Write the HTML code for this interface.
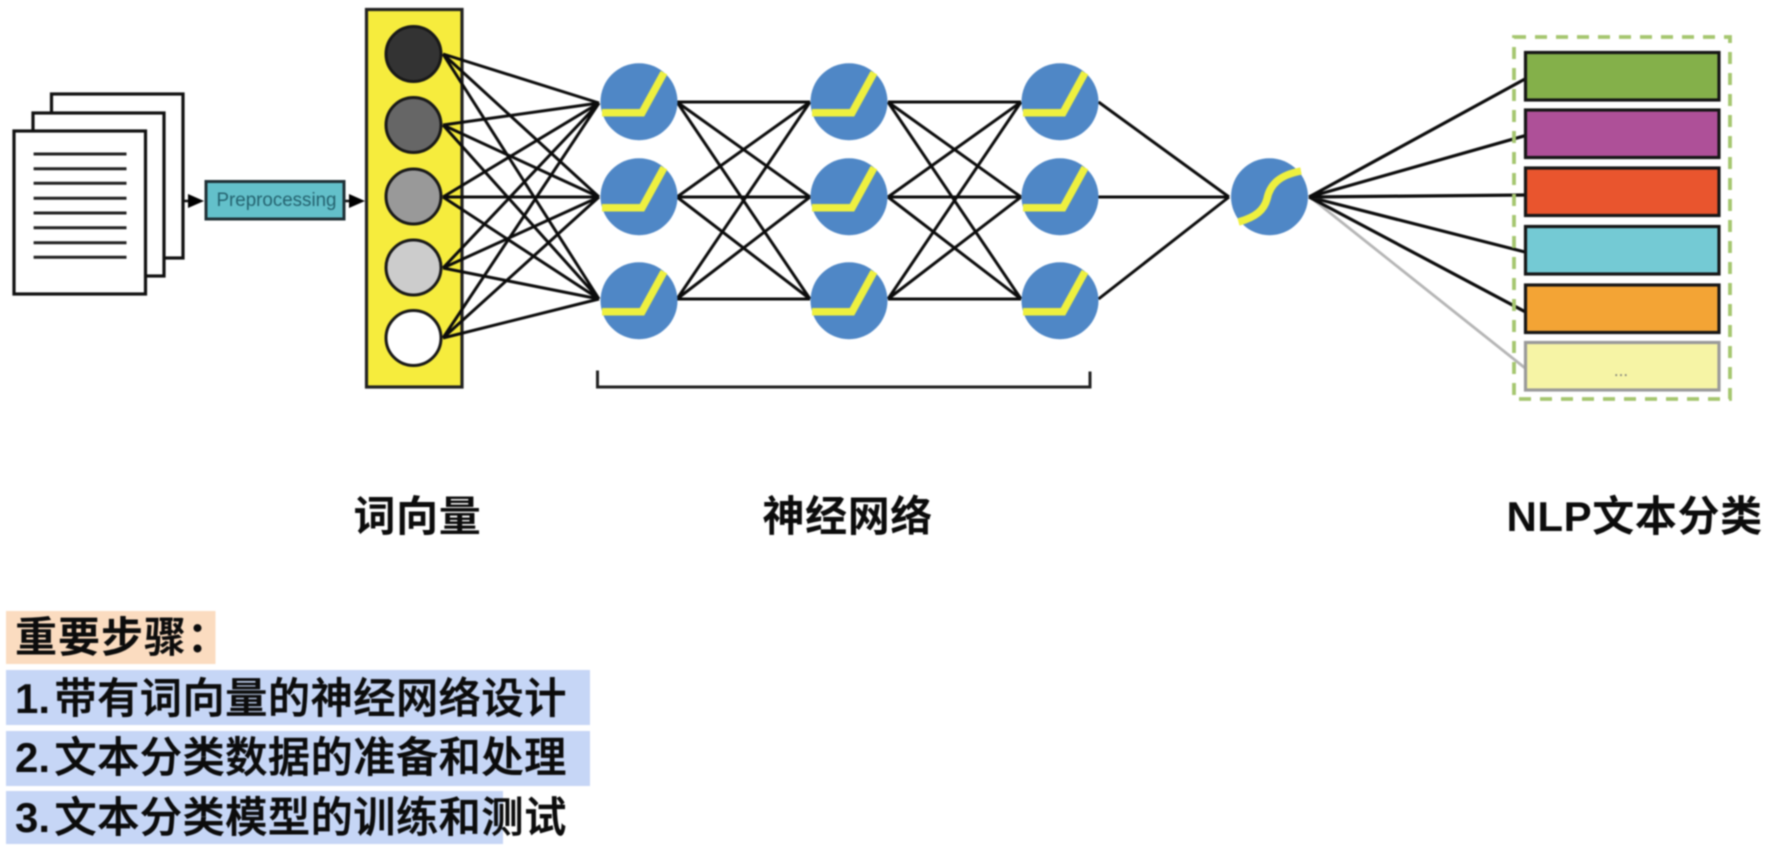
<!DOCTYPE html>
<html lang="zh"><head><meta charset="utf-8"><title>NLP文本分类</title>
<style>
html,body{margin:0;padding:0;background:#fff;width:1774px;height:853px;overflow:hidden}
svg{display:block;filter:blur(.9px)}
text{font-family:"Liberation Sans","Noto Sans CJK SC",sans-serif;fill:#0c0c0c}
.h{font-size:42px;font-weight:700;letter-spacing:.6px}
.s{font-size:42px;font-weight:500;letter-spacing:.7px;stroke:#0c0c0c;stroke-width:.7px}
.b{font-weight:700;stroke:none;letter-spacing:0}
</style></head><body>
<svg width="1774" height="853" viewBox="0 0 1774 853" xmlns="http://www.w3.org/2000/svg">
<defs>
<g id="n"><circle r="38.5" fill="#4f87c6"/><path d="M-37 11H3L25-29" fill="none" stroke="#eef03f" stroke-width="7.5"/></g>
</defs>
<g fill="#fff" stroke="#111" stroke-width="3.2">
<rect x="51.5" y="94" width="131.500" height="164"/>
<rect x="33" y="113" width="131" height="163"/>
<rect x="14" y="131" width="131.500" height="163"/>
</g>
<path d="M33.600 154H126.500M33.600 168.700H126.500M33.600 183.300H126.500M33.600 198.300H126.500M33.600 213H126.500M33.600 227.700H126.500M33.600 242.700H126.500M33.600 257.300H126.500" stroke="#222" stroke-width="3" fill="none"/>
<path d="M183 201H192M344 201H352" stroke="#111" stroke-width="2.500"/>
<path d="M188 194L204 201L188 208ZM349 194L365 201L349 208Z" fill="#000"/>
<rect x="206" y="181.500" width="138" height="37.500" fill="#63c0ca" stroke="#1f3036" stroke-width="3"/>
<text x="216.500" y="206" textLength="120" lengthAdjust="spacingAndGlyphs" style="font-size:19px;fill:#24626f">Preprocessing</text>
<rect x="366.500" y="9.500" width="95.500" height="377.500" fill="#f6ec3d" stroke="#222" stroke-width="3.200"/>
<path fill="none" stroke="#0c0c0c" stroke-width="3" d="M443 54L599 103M443 54L599 197M443 54L599 299M443 125L599 103M443 125L599 197M443 125L599 299M443 197L599 103M443 197L599 197M443 197L599 299M443 268L599 103M443 268L599 197M443 268L599 299M443 338L599 103M443 338L599 197M443 338L599 299"/>
<g stroke="#181818" stroke-width="3">
<ellipse cx="413.500" cy="54" rx="27.500" ry="27.500" fill="#333"/>
<ellipse cx="413.500" cy="125" rx="27.500" ry="27.500" fill="#666"/>
<ellipse cx="413.500" cy="196.500" rx="27.500" ry="27.500" fill="#999"/>
<ellipse cx="413.500" cy="267.500" rx="27.500" ry="27.500" fill="#ccc"/>
<ellipse cx="413.500" cy="338" rx="27.500" ry="27.500" fill="#fff"/>
</g>
<path fill="none" stroke="#0c0c0c" stroke-width="3" d="M677 102L810 102M677 102L810 197M677 102L810 299M677 197L810 102M677 197L810 197M677 197L810 299M677 299L810 102M677 299L810 197M677 299L810 299M888 102L1021 102M888 102L1021 197M888 102L1021 299M888 197L1021 102M888 197L1021 197M888 197L1021 299M888 299L1021 102M888 299L1021 197M888 299L1021 299M1098.500 102L1229 197M1098.500 197L1229 197M1098.500 299L1229 197"/>
<path fill="none" stroke="#b5b5b5" stroke-width="2.800" d="M1310 197L1525 368"/>
<path fill="none" stroke="#0c0c0c" stroke-width="3.200" d="M1309 197L1525 79M1309 197L1525 135.700M1309 197L1525 195M1309 197L1525 252M1309 197L1525 311.700"/>
<use href="#n" x="639" y="101.700"/><use href="#n" x="849" y="101.700"/><use href="#n" x="1060" y="101.700"/>
<use href="#n" x="639" y="196.700"/><use href="#n" x="849" y="196.700"/><use href="#n" x="1060" y="196.700"/>
<use href="#n" x="639" y="300.700"/><use href="#n" x="849" y="300.700"/><use href="#n" x="1060" y="300.700"/>
<circle cx="1269.500" cy="196.700" r="38.500" fill="#4f87c6"/>
<path d="M1238.500 222C1256 217 1264 210 1267 199C1270 184 1280 175 1301 171" fill="none" stroke="#eef03f" stroke-width="7.500"/>
<path d="M597.500 370.500V387H1090V371.500" fill="none" stroke="#222" stroke-width="3"/>
<rect x="1514" y="37" width="216" height="362" fill="none" stroke="#a5c66f" stroke-width="3.800" stroke-dasharray="12 9"/>
<g stroke-width="3.200" stroke="#161616">
<rect x="1525.500" y="52.500" width="193.500" height="47.500" fill="#84b04a"/>
<rect x="1525.500" y="110" width="193.500" height="47.500" fill="#ae5098"/>
<rect x="1525.500" y="168" width="193.500" height="47.500" fill="#e9552e"/>
<rect x="1525.500" y="226.500" width="193.500" height="47.500" fill="#74cad4"/>
<rect x="1525.500" y="285" width="193.500" height="47.500" fill="#f3a435"/>
<rect x="1525.500" y="342.500" width="193.500" height="47.500" fill="#f6f4a5" stroke="#9a9a9a"/>
</g>
<text x="1621" y="376" text-anchor="middle" style="font-size:17px;fill:#777">...</text>
<text class="h" x="353.500" y="531">词向量</text>
<text class="h" x="762.500" y="531">神经网络</text>
<text class="h" x="1506.500" y="531">NLP文本分类</text>
<rect x="6" y="611" width="209.500" height="53" fill="#fbdcc0"/>
<rect x="6" y="670" width="584" height="55" fill="#c6d6f6"/>
<rect x="6" y="731" width="584" height="55" fill="#c6d6f6"/>
<rect x="6" y="791" width="497" height="53" fill="#c6d6f6"/>
<text class="h" x="15" y="652" style="letter-spacing:1px">重要步骤：</text>
<text class="s" x="15" y="713"><tspan class="b">1.</tspan><tspan x="54.500">带有词向量的神经网络设计</tspan></text>
<text class="s" x="15" y="772"><tspan class="b">2.</tspan><tspan x="54.500">文本分类数据的准备和处理</tspan></text>
<text class="s" x="15" y="832"><tspan class="b">3.</tspan><tspan x="54.500">文本分类模型的训练和测试</tspan></text>
</svg>
</body></html>
